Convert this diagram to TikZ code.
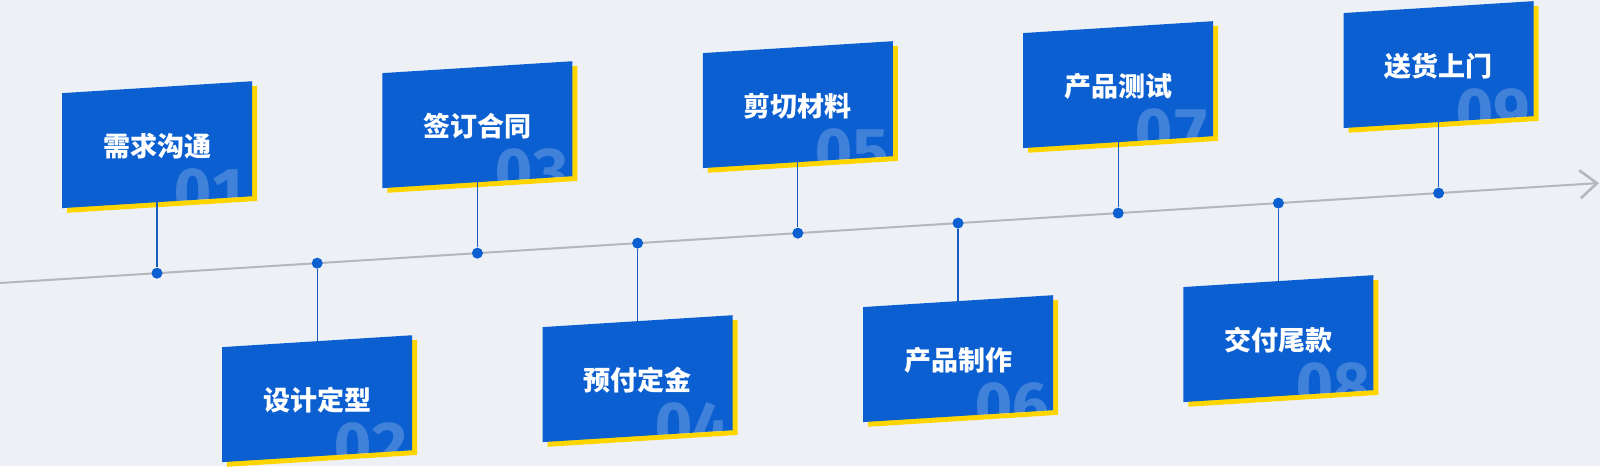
\documentclass[tikz,border=0pt]{standalone}
\usepackage{fontspec}
\newfontfamily\cjk{Noto Sans CJK SC}
\newfontfamily\numfont[Numbers=Monospaced]{Fira Sans}
\usetikzlibrary{arrows.meta}
\definecolor{bg}{HTML}{EDF0F5}
\definecolor{boxblue}{HTML}{0B5FD0}
\definecolor{shadowy}{HTML}{FFD500}
\definecolor{tline}{HTML}{B4B7BB}
\definecolor{conn}{HTML}{1A5CC2}
\begin{document}
\begin{tikzpicture}[x=0.5pt,y=-0.5pt,
  dotnode/.style={circle,fill=boxblue,minimum size=5.5pt,inner sep=0pt},
  labeltext/.style={font=\cjk\bfseries\fontsize{13.5pt}{16pt}\selectfont,text=white},
  numtext/.style={font=\numfont\bfseries\fontsize{33pt}{33pt}\selectfont,text=white,text opacity=0.22,anchor=base east,inner sep=0pt},
  conline/.style={draw=conn,line width=0.6pt},
  boxfill/.style={fill=boxblue},
  shadowfill/.style={fill=shadowy},
  timeline/.style={draw=tline,line width=1pt,-{Straight Barb[length=8.5pt,width=14pt,line width=1.3pt]}}
]
\fill[bg] (0,0) rectangle (1600,466);
\useasboundingbox (0,0) rectangle (1600,466);
\begin{scope}[yslant=0.0625]
  \coordinate (tstart) at (0,283);
  \coordinate (tend) at (1599,283);
  \draw[timeline] (tstart) -- (tend);
  \foreach \i/\lab in {1/需求沟通,2/设计定型,3/签订合同,4/预付定金,5/剪切材料,6/产品制作,7/产品测试,8/交付尾款,9/送货上门}{
    \pgfmathsetmacro\cx{157+160.2*(\i-1)}
    \ifodd\i \def\yt{97}\def\yb{212}\def\ya{212}\else \def\yt{361}\def\yb{476}\def\ya{361}\fi
    \fill[shadowfill] (\cx-90,\yt+5) -- (\cx+100,\yt+5) -- (\cx+100,\yb+5) -- (\cx-90,\yb+5) -- cycle;
    \fill[boxfill] (\cx-95,\yt) -- (\cx+95,\yt) -- (\cx+95,\yb) -- (\cx-95,\yb) -- cycle;
    \begin{scope}
      \clip (\cx-95,\yt) -- (\cx+95,\yt) -- (\cx+95,\yb) -- (\cx-95,\yb) -- cycle;
      \node[numtext] (n\i) at (\cx+92,\yb+19) {0\i};
    \end{scope}
    \node[labeltext] (l\i) at (\cx,{(\yt+\yb)/2+1.5}) {\lab};
    \coordinate (b\i) at (\cx,\ya);
    \node[dotnode] (d\i) at (\cx,283) {};
    \draw[conline] (b\i) -- (d\i);
  }
\end{scope}
\end{tikzpicture}
\end{document}
